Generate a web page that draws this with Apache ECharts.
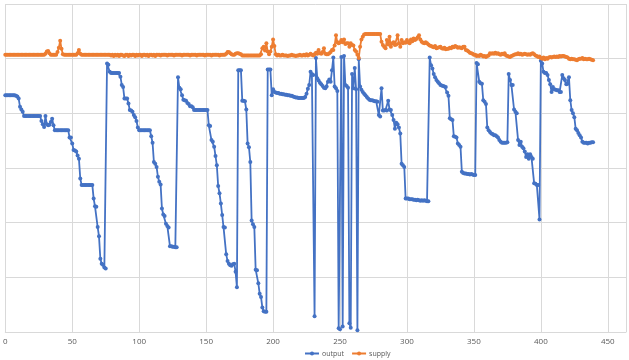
<!DOCTYPE html>
<html>
<head>
<meta charset="utf-8">
<script src="https://cdn.jsdelivr.net/npm/echarts@6/dist/echarts.min.js"></script>
<style>html,body{margin:0;padding:0;background:#fff}#c{width:629px;height:360px}</style>
</head>
<body>
<div id="c"></div>
<script>
// x positions are the sample index (0 .. 439)
const xTicks = [0, 50, 100, 150, 200, 250, 300, 350, 400, 450];
const seriesNames = ['output', 'supply'];

const output = [
  // 0-29
  43.3,43.3,43.3,43.3,43.3,43.3,43.3,43.3,43.2,43.1,
  42.7,41.2,40.7,40.3,39.5,39.5,39.5,39.5,39.5,39.5,
  39.5,39.5,39.5,39.5,39.5,39.5,39.5,38.6,38.0,37.5,
  // 30-59
  39.5,38.0,37.8,37.9,38.4,39.0,37.8,36.9,36.9,36.9,
  36.9,36.9,36.9,36.9,36.9,36.9,36.9,36.9,35.6,35.6,
  34.5,33.3,33.2,33.0,32.3,31.7,28.1,26.9,26.9,26.9,
  // 60-89
  26.9,26.9,26.9,26.9,26.9,26.9,24.4,23.0,22.9,19.2,
  17.5,13.4,12.5,12.3,11.8,11.6,49.1,48.9,47.6,47.4,
  47.4,47.4,47.4,47.4,47.4,47.4,46.7,45.2,44.8,42.7,
  // 90-119
  42.7,42.7,41.8,40.6,40.5,40.3,39.7,39.3,38.6,37.4,
  36.9,36.9,36.9,36.9,36.9,36.9,36.9,36.9,36.9,35.8,
  34.6,31.1,30.8,30.2,28.4,27.5,27.0,22.6,21.5,21.2,
  // 120-149
  19.8,19.4,19.1,15.7,15.7,15.6,15.6,15.5,15.5,46.6,
  44.7,44.4,43.3,42.5,42.4,42.3,41.9,41.7,41.3,41.3,
  41.1,40.6,40.6,40.6,40.6,40.6,40.6,40.6,40.6,40.6,
  // 150-179
  40.6,40.6,37.8,37.7,35.1,34.8,33.9,32.2,30.5,26.7,
  25.4,23.5,21.4,19.2,19.1,14.2,13.0,12.5,12.2,12.1,
  12.4,12.5,11.0,8.2,47.9,47.9,47.9,42.3,42.3,42.2,
  // 180-209
  40.7,34.5,33.8,31.1,20.4,19.7,19.2,11.4,11.3,8.9,
  7.0,6.4,4.5,3.8,3.7,3.7,48.0,48.0,48.0,43.3,
  44.4,43.9,43.8,43.7,43.7,43.6,43.6,43.5,43.5,43.4,
  // 210-239
  43.4,43.3,43.3,43.2,43.2,43.1,43.0,42.9,42.9,42.8,
  42.8,42.8,42.8,42.8,43.0,43.6,44.5,45.2,47.6,47.2,
  47.0,2.9,50.1,46.4,46.0,45.6,45.3,45.0,44.7,44.6,
  // 240-269
  44.9,45.8,46.2,45.8,47.9,50.2,44.9,44.6,44.1,0.7,
  0.5,50.3,1.0,50.5,45.2,45.0,44.7,1.6,0.8,47.2,
  44.6,48.3,44.4,0.3,49.9,44.9,44.3,43.9,43.6,43.3,
  // 270-299
  43.0,42.7,42.5,42.4,42.4,42.3,42.2,42.2,42.1,39.7,
  39.4,44.6,40.5,40.5,40.6,40.5,42.3,40.7,40.6,39.7,
  38.8,37.2,38.3,38.0,37.4,36.3,30.8,30.5,30.2,24.4,
  // 300-329
  24.4,24.4,24.3,24.3,24.3,24.2,24.2,24.1,24.2,24.1,
  24.0,24.1,24.0,24.1,24.0,23.9,23.9,50.2,48.8,48.2,
  47.2,46.6,46.1,45.8,45.5,45.2,45.1,45.0,44.9,44.8,
  // 330-359
  43.8,43.2,39.1,38.9,38.8,35.8,35.7,35.6,34.5,34.2,
  33.9,29.3,29.1,29.0,29.0,28.9,28.9,28.8,28.9,28.8,
  28.7,28.7,49.2,49.0,45.8,45.5,45.4,42.4,42.1,41.7,
  // 360-389
  37.4,36.9,36.6,36.3,36.2,36.0,36.0,35.8,35.6,35.1,
  34.8,34.6,34.6,34.6,34.6,34.7,47.2,46.1,45.2,45.2,
  40.7,40.3,40.0,35.1,34.2,34.8,33.9,33.6,33.0,32.0,
  // 390-419
  32.5,31.7,32.5,32.0,31.7,27.2,27.1,26.9,26.9,20.6,
  49.6,49.1,47.6,47.4,47.4,47.0,46.1,45.3,43.9,44.8,
  44.4,44.3,44.2,44.2,43.9,43.9,47.0,46.4,46.1,45.3,
  // 420-439
  45.4,46.6,42.4,40.6,40.0,39.3,37.2,36.9,36.4,36.0,
  35.6,34.8,34.6,34.6,34.6,34.5,34.6,34.6,34.7,34.7
];

const supply = [
  // 0-29
  50.7,50.7,50.7,50.7,50.7,50.7,50.7,50.7,50.7,50.7,
  50.7,50.7,50.7,50.7,50.7,50.7,50.7,50.7,50.7,50.7,
  50.7,50.7,50.7,50.7,50.7,50.7,50.7,50.7,50.7,50.7,
  // 30-59
  50.9,51.3,51.4,51.0,50.7,50.7,50.7,50.7,50.7,51.2,
  52.0,53.3,51.8,50.8,50.7,50.7,50.7,50.7,50.7,50.7,
  50.7,50.7,50.7,50.7,51.0,51.6,50.9,50.7,50.7,50.7,
  // 60-89
  50.7,50.7,50.7,50.7,50.7,50.7,50.7,50.7,50.7,50.7,
  50.7,50.7,50.7,50.7,50.7,50.7,50.7,50.7,50.7,50.6,
  50.7,50.5,50.7,50.6,50.7,50.5,50.7,50.7,50.6,50.5,
  // 90-119
  50.7,50.7,50.5,50.7,50.6,50.7,50.7,50.5,50.7,50.6,
  50.7,50.7,50.5,50.7,50.7,50.6,50.7,50.5,50.7,50.7,
  50.6,50.7,50.5,50.7,50.7,50.7,50.6,50.7,50.7,50.7,
  // 120-149
  50.7,50.6,50.7,50.7,50.7,50.7,50.6,50.7,50.7,50.7,
  50.7,50.7,50.6,50.7,50.7,50.7,50.7,50.7,50.6,50.7,
  50.7,50.7,50.7,50.6,50.7,50.7,50.7,50.7,50.7,50.6,
  // 150-179
  50.7,50.7,50.7,50.7,50.6,50.7,50.7,50.7,50.7,50.7,
  50.6,50.7,50.7,50.7,50.7,50.9,51.2,51.2,51.0,50.8,
  50.7,50.7,50.9,51.0,51.0,50.9,50.8,50.6,50.6,50.6,
  // 180-209
  50.6,50.6,50.6,50.6,50.6,50.6,50.6,50.6,50.6,50.6,
  50.6,50.8,51.9,52.2,51.5,52.8,51.3,50.8,51.3,52.2,
  53.5,52.3,50.8,50.6,50.7,50.6,50.6,50.7,50.6,50.6,
  // 210-239
  50.6,50.5,50.6,50.6,50.7,50.6,50.6,50.5,50.6,50.6,
  50.7,50.6,50.6,50.7,50.6,50.8,50.6,50.7,50.9,50.7,
  50.6,50.8,51.1,50.9,51.6,51.0,50.9,51.2,51.9,50.9,
  // 240-269
  50.8,50.8,51.0,51.2,51.6,51.6,52.4,54.3,53.0,52.8,
  53.0,53.4,53.0,53.5,52.7,52.8,52.8,52.2,52.8,52.5,
  52.4,51.6,51.3,50.7,50.1,52.2,53.5,54.0,54.4,54.5,
  // 270-299
  54.5,54.5,54.5,54.5,54.5,54.5,54.5,54.5,54.5,54.5,
  54.5,53.1,52.5,52.2,51.9,53.4,52.6,54.0,52.2,52.8,
  53.0,52.5,52.6,54.3,52.8,52.2,53.4,52.8,53.0,52.9,
  // 300-329
  53.4,53.0,52.8,53.5,53.2,53.7,53.4,53.6,53.9,54.3,
  53.5,53.1,52.9,52.8,53.0,52.8,52.6,52.4,52.3,52.2,
  52.1,52.3,51.9,52.0,52.1,52.2,51.9,51.8,52.0,51.7,
  // 330-359
  51.8,51.8,52.0,51.9,52.2,52.1,52.3,52.2,52.0,52.1,
  52.0,51.9,52.2,52.2,51.6,51.5,51.3,51.1,51.0,50.9,
  50.7,50.7,50.5,50.6,50.5,50.7,50.6,50.4,50.5,50.3,
  // 360-389
  50.5,50.6,51.0,50.9,51.0,50.9,51.1,50.9,51.0,50.8,
  50.7,50.9,50.8,51.0,50.6,50.5,50.4,50.3,50.5,50.6,
  50.7,50.8,50.8,51.0,50.8,50.9,50.7,50.8,50.9,50.8,
  // 390-419
  50.7,50.8,50.7,50.9,51.0,50.8,50.6,50.5,50.3,50.4,
  50.1,50.0,50.2,49.9,50.1,50.0,50.2,50.3,50.2,50.3,
  50.4,50.3,50.4,50.3,50.5,50.4,50.5,50.5,50.4,50.3,
  // 420-439
  50.2,50.0,49.9,50.0,49.9,49.9,49.8,49.7,49.9,50.0,
  50.0,50.1,49.9,50.0,49.9,49.9,50.0,49.9,49.8,49.7
];

const colors = ['#4472C4', '#ED7D31'];
const chart = echarts.init(document.getElementById('c'), null, {renderer: 'canvas'});
const mk = (arr, i) => ({
  name: seriesNames[i],
  type: 'line',
  data: arr.map((v, k) => [k, v]),
  symbol: 'circle',
  symbolSize: 4,
  showAllSymbol: true,
  lineStyle: {color: colors[i], width: 1.8},
  itemStyle: {color: colors[i]},
  emphasis: {disabled: true}
});
chart.setOption({
  animation: false,
  backgroundColor: '#fff',
  grid: {left: 3, right: 0, top: 4, bottom: 28, containLabel: false},
  legend: {
    data: seriesNames,
    left: 304, top: 350, padding: 0,
    itemWidth: 14, itemHeight: 5, itemGap: 7,
    textStyle: {fontSize: 7, color: '#595959', fontFamily: 'Open Sans', padding: [0, 0, 0, -2]}
  },
  xAxis: {
    type: 'value', min: 0, max: 463.6, interval: 50,
    axisLine: {show: true, lineStyle: {color: '#d9d9d9', width: 1}},
    axisTick: {show: false},
    splitLine: {show: true, lineStyle: {color: '#d9d9d9', width: 1}},
    axisLabel: {
      fontSize: 8, color: '#595959', fontFamily: 'Open Sans', margin: 6,
      formatter: v => (xTicks.indexOf(v) >= 0 ? String(v) : '')
    }
  },
  yAxis: {
    type: 'value', min: 0, max: 60, interval: 10,
    axisLine: {show: false}, axisTick: {show: false}, axisLabel: {show: false},
    splitLine: {show: true, lineStyle: {color: '#d9d9d9', width: 1}}
  },
  series: [mk(output, 0), mk(supply, 1)]
});
</script>
</body>
</html>
